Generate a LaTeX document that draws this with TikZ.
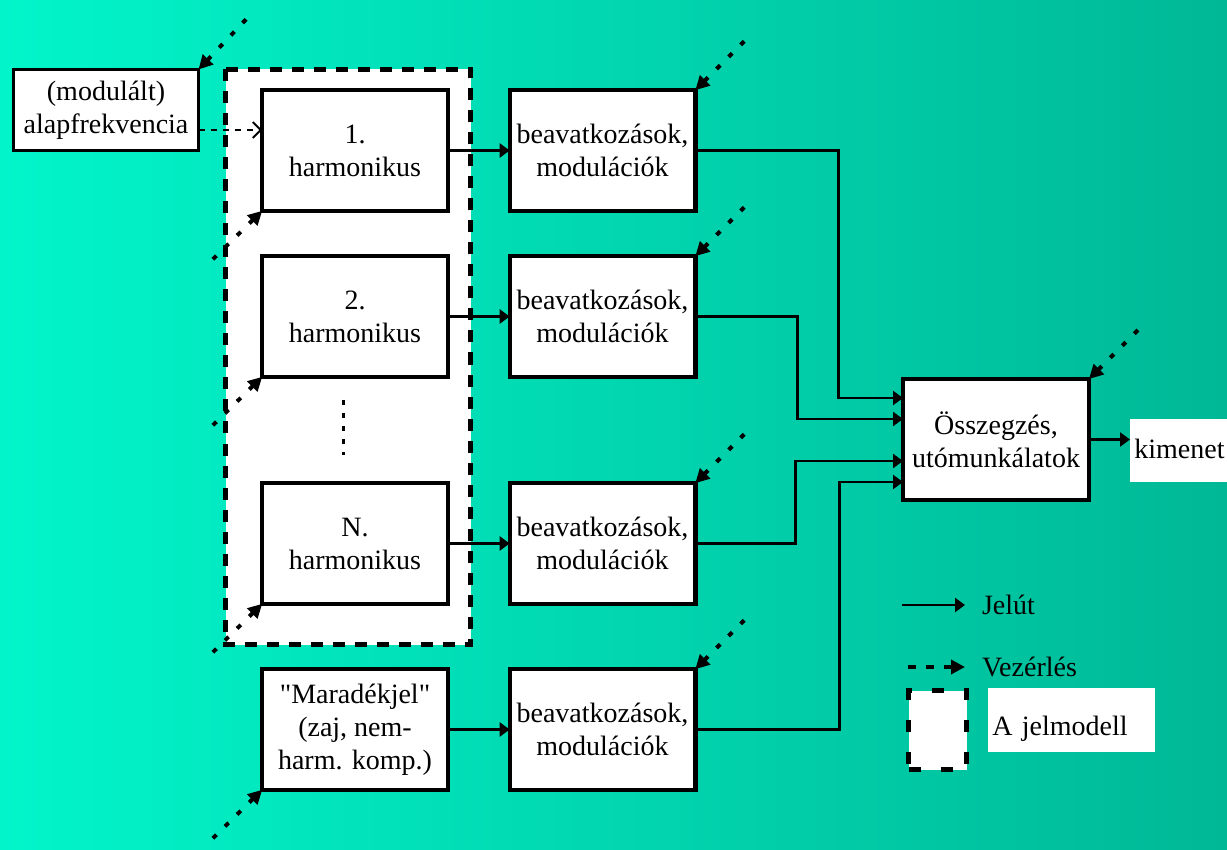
\documentclass[tikz,border=0pt]{standalone}
\usepackage{fontspec}
\setmainfont{Liberation Serif}
\newfontfamily\plainrm{Liberation Serif}% straight quotes
\usepackage{tikz}
\usetikzlibrary{arrows.meta,positioning}
\definecolor{bgleft}{RGB}{2,245,202}
\definecolor{bgright}{RGB}{0,184,150}

\begin{document}
\begin{tikzpicture}[
x=0.5pt, y=-0.5pt,
font=\fontsize{14}{16.5}\selectfont,
    blk/.style = {rectangle, draw, fill=white, line width=2.2pt,% boxes of the signal path
                  minimum width=92.8pt, minimum height=60.3pt,
                  inner sep=1pt, outer sep=0pt, align=center},
    sig/.style = {line width=1.2pt, -{Triangle[length=5pt,width=7pt]}},% Jelut
    ctl/.style = {line width=2pt, dash pattern=on 2.5pt off 6pt,% Vezerles
                  {Triangle[length=7pt,width=7pt]}-},
     jm/.style = {draw, fill=white, line width=2.5pt, dash pattern=on 6pt off 5pt},
    lbl/.style = {fill=white, anchor=north west, inner xsep=2pt, inner ysep=2pt,
                  align=left},
                        ]
\useasboundingbox (0,0) rectangle (1227,850);
\shade[left color=bgleft, right color=bgright] (0,0) rectangle (1227,850);
\draw[jm] (225.5,69.5) rectangle (470.5,644.5);% the signal model
\node[blk, line width=1.5pt, minimum width=92.5pt, minimum height=40.5pt]
    (alap) at (106,110) {(modulált)\\alapfrekvencia};
\foreach \i/\y/\t in {1/150.5/{1.}, 2/316.5/{2.}, 3/543.5/{N.}}% <-- harmonics
    \node[blk] (h\i) at (355,\y) {\t\\harmonikus};
\node[blk, font=\fontsize{14}{16.5}\plainrm] (m) at (355,729.5) {"Maradékjel"\\(zaj, nem-\\harm. komp.)};
\foreach \i/\y in {1/150.5, 2/316.5, 3/543.5, 4/729.5}
    \node[blk] (b\i) at (602.5,\y) {beavatkozások,\\modulációk};
\node[blk, minimum width=93pt, minimum height=60.5pt]
    (s) at (996,439.5) {Összegzés,\\utómunkálatok};
\node[lbl, text height=17.5pt, text depth=10pt, text width=45pt] (out) at (1130,419) {kimenet};
\draw[line width=1.5pt, dash pattern=on 2.5pt off 4pt] (343,400) -- (343,455);
% signal path
\draw[line width=1pt, dash pattern=on 3pt off 3pt, -{Straight Barb[length=4pt,width=8pt]}]
    ([yshift=-10pt]alap.east) -- ([yshift=10.25pt]h1.west);
\foreach \i in {1,2,3}
    \draw[sig] (h\i.east) -- (b\i.west);
\draw[sig] (m.east) -- (b4.west);
\draw[sig] (b1.east) -- ++(143,0) |- ([yshift=20.75pt]s.west);
\draw[sig] (b2.east) -- ++(102,0) |- ([yshift=10.25pt]s.west);
\draw[sig] (b3.east) -- ++(100,0) |- ([yshift=-10.75pt]s.west);
\draw[sig] (b4.east) -- ++(144,0) |- ([yshift=-21.25pt]s.west);
\draw[sig] (s.east) -- (out.west |- s.east);
% control
\draw[ctl] (alap.north east) -- ++(55,-58);
\foreach \n in {h1,h2,h3,m}
    \draw[ctl] (\n.south west) -- ++(-56,55);
\foreach \n in {b1,b2,b3,b4,s}
    \draw[ctl] (\n.north east) -- ++(56,-56);
% legend
\coordinate (lj1) at (902,605); \coordinate (lj2) at (965,605);
\coordinate (lv1) at (902,667); \coordinate (lv2) at (965,667);
\draw[sig] (lj1) -- (lj2);
\draw[ctl, dash pattern=on 4pt off 5pt] (lv2) -- (lv1);
\node[anchor=west] (lj) at (975,605) {Jelút};
\node[anchor=west] (lv) at (975,667) {Vezérlés};
\node[jm, dash pattern=on 6pt off 10pt, minimum width=29pt, minimum height=39.5pt]
    (lb) at (937.5,730) {};
\node[lbl, text height=21.5pt, text depth=6.5pt, text width=79.5pt] (lm) at (988,688) {A jelmodell};
\end{tikzpicture}
\end{document}
